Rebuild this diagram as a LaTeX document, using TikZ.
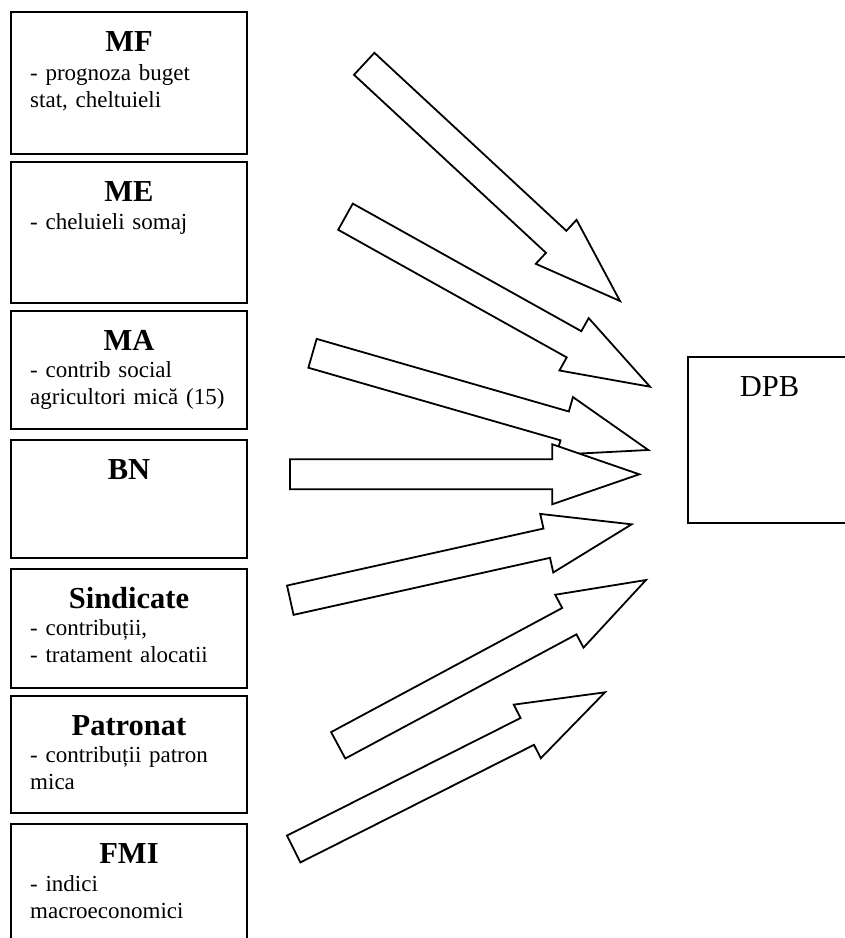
\documentclass[tikz,border=0pt]{standalone}
\usepackage{fontspec}
\setmainfont{Liberation Serif}
\usetikzlibrary{calc}

\tikzset{
  srcbox/.style={draw, line width=1.9pt, minimum width=236pt, inner sep=0pt},
  boxtitle/.style={font=\fontsize{30.5}{34}\selectfont\bfseries, anchor=base, inner sep=0pt},
  boxtext/.style={font=\fontsize{23}{27}\selectfont, anchor=base west, align=left,
                  text width=215pt, inner sep=0pt},
  blockarrow/.style={draw, fill=white, line width=1.8pt, line join=miter},
}

\begin{document}
\begin{tikzpicture}[x=1pt, y=-1pt]
\useasboundingbox (0,0) rectangle (845,938);
\clip (0,0) rectangle (845,938);

% 1. boxes on the left, with their titles
\foreach \id/\y/\h/\title in {mf/83/142/MF, me/232.5/141/ME, ma/370/118/MA, bn/499/118/BN,
                              sind/628.5/119/Sindicate, patr/754.5/117/Patronat, fmi/884/120/FMI}{
  \node[srcbox, minimum height=\h pt] (\id) at (129,\y) {};
  \node[boxtitle] (\id-t) at ([yshift=-40pt]\id.north) {\title};
}

% 1.1. and what each one sends
\node[boxtext] (mf-b)   at ([xshift=20pt, yshift=-69pt]mf.north west)   {- prognoza buget\\stat, cheltuieli};
\node[boxtext] (me-b)   at ([xshift=20pt, yshift=-68pt]me.north west)   {- cheluieli somaj};
\node[boxtext] (ma-b)   at ([xshift=20pt, yshift=-67pt]ma.north west)   {- contrib social\\agricultori mică (15)};
\node[boxtext] (sind-b) at ([xshift=20pt, yshift=-67pt]sind.north west) {- contribuții,\\- tratament alocatii};
\node[boxtext] (patr-b) at ([xshift=20pt, yshift=-67pt]patr.north west) {- contribuții patron\\mica};
\node[boxtext] (fmi-b)  at ([xshift=20pt, yshift=-68pt]fmi.north west)  {- indici\\macroeconomici};

% 2. the receiving box
\node[srcbox, minimum width=163pt, minimum height=166pt] (dpb) at (769.5,440) {};
\node[boxtitle, font=\fontsize{30.5}{34}\selectfont] (dpb-t) at ([yshift=-40pt]dpb.north) {DPB};

% 3. block arrows, tail -> tip
\foreach \sx/\sy/\tx/\ty[count=\i] in {364.2/63.8/620/301, 345.5/216.7/650/386.7,
    312.5/353.3/648.3/450, 290/474.2/639.3/474.3, 290.3/600.2/631.7/524.3,
    338.2/745.3/646/580, 293.7/849/605/692.3}{
  \pgfmathsetmacro\ang{atan2(\sy-\ty,\tx-\sx)}
  \pgfmathsetmacro\len{veclen(\tx-\sx,\ty-\sy)}
  \coordinate (tail-\i) at (\sx,\sy);
  \coordinate (tip-\i)  at (\tx,\ty);
  \draw[blockarrow, shift={(tail-\i)}, rotate=\ang]
    (0,-15) -- (\len-87,-15) -- (\len-87,-30) -- (\len,0)
    -- (\len-87,30) -- (\len-87,15) -- (0,15) -- cycle;
}
\end{tikzpicture}
\end{document}
